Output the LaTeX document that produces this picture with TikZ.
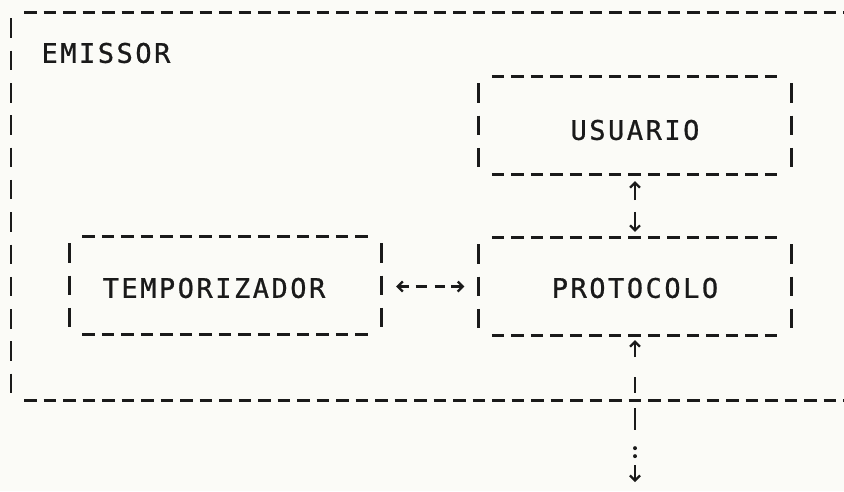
\documentclass[tikz,border=0pt]{standalone}
\usepackage{fontspec}
\setmonofont[LetterSpace=9.3,FakeBold=0.8]{DejaVu Sans Mono}
\usetikzlibrary{calc,arrows.meta}
\definecolor{ink}{HTML}{1A1A1A}
\definecolor{paper}{HTML}{FBFBF7}
\begin{document}
\begin{tikzpicture}[x=1pt,y=-1pt,
  hline/.style={line width=3pt, ink, dash pattern=on 12.5pt off 7pt},
  vline/.style={line width=2.8pt, ink, dash pattern=on 19.5pt off 12.8pt},
  lbl/.style={font=\ttfamily\fontsize{27}{27}\selectfont, text=ink, inner sep=0pt},
  boxnode/.style={minimum width=312pt, minimum height=96.9pt, inner sep=0pt, draw=none},
  arr/.style={line width=2.6pt, ink, -{Straight Barb[length=5pt,width=10pt,line width=2.2pt]}}]
\useasboundingbox (0,0) rectangle (844,491);
\fill[paper] (0,0) rectangle (844,491);

% outer frame (open on the right)
\coordinate (otl) at (11,12);
\coordinate (obl) at (11,400);
\draw[hline] ($(otl)+(13,0)$) -- (844,12);
\draw[hline] ($(obl)+(13,0)$) -- (844,400);
\draw[vline] ($(otl)+(0,6.4)$) -- ($(obl)+(0,-6.4)$);
\node[lbl] (emissor) at (106,53) {EMISSOR};

% boxes
\node[boxnode] (usuario) at (635,125.5) {};
\node[boxnode] (protocolo) at (635,286.5) {};
\node[boxnode] (tempo) at (225.5,285.5) {};
\foreach \b in {usuario,protocolo,tempo}{
  \draw[hline] ($(\b.north west)+(13,0)$) -- ($(\b.north east)+(-13,0)$);
  \draw[hline] ($(\b.south west)+(13,0)$) -- ($(\b.south east)+(-13,0)$);
  \draw[vline] ($(\b.north west)+(0,6.4)$) -- ($(\b.south west)+(0,-6.4)$);
  \draw[vline] ($(\b.north east)+(0,6.4)$) -- ($(\b.south east)+(0,-6.4)$);
}
\node[lbl] (tusuario) at (635,130) {USUARIO};
\node[lbl] (tprotocolo) at (635,288) {PROTOCOLO};
\node[lbl] (ttempo) at (214,288) {TEMPORIZADOR};

% usuario <-> protocolo
\draw[arr] ($(usuario.south)+(0,26)$) -- ($(usuario.south)+(0,7)$);
\draw[arr] ($(protocolo.north)+(0,-26)$) -- ($(protocolo.north)+(0,-6)$);

% tempo <-> protocolo
\coordinate (ha) at ($(tempo.east)+(14.5,1)$);
\coordinate (hb) at ($(protocolo.west)+(-14.5,0)$);
\draw[arr] ($(ha)+(13,0)$) -- (ha);
\draw[line width=2.6pt, ink, dash pattern=on 11pt off 8pt] ($(ha)+(19.5,0)$) -- ($(hb)+(-19,0)$);
\draw[arr] ($(hb)+(-13,0)$) -- (hb);

% protocolo -> outside
\coordinate (out) at (635,482);
\draw[arr] ($(protocolo.south)+(0,22)$) -- ($(protocolo.south)+(0,5)$);
\draw[line width=2.6pt, ink, dash pattern=on 16pt off 15pt on 22pt off 100pt] ($(protocolo.south)+(0,42)$) -- ($(protocolo.south)+(0,95)$);
\fill[ink] ($(protocolo.south)+(0,113)$) circle (2pt);
\fill[ink] ($(protocolo.south)+(0,121)$) circle (2pt);
\draw[arr] ($(out)+(0,-17)$) -- (out);
\end{tikzpicture}
\end{document}
